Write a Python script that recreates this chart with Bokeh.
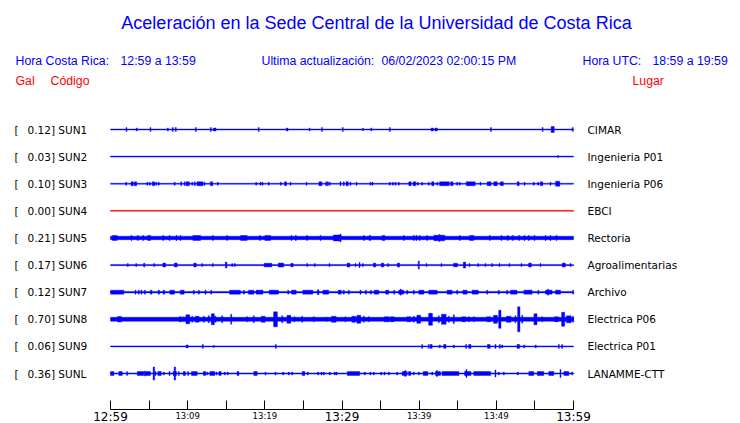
from bokeh.plotting import figure
from bokeh.models import Range1d, LinearAxis, FixedTicker, ColumnDataSource
from bokeh.core.properties import value
from bokeh.embed import file_html
from bokeh.resources import INLINE

# ---------------- data ----------------
CODES = ["SUN1", "SUN2", "SUN3", "SUN4", "SUN5", "SUN6", "SUN7", "SUN8", "SUN9", "SUNL"]
PLACES = ["CIMAR", "Ingenieria P01", "Ingenieria P06", "EBCI", "Rectoria",
          "Agroalimentarias", "Archivo", "Electrica P06", "Electrica P01", "LANAMME-CTT"]
PEAK_GAL = [0.12, 0.03, 0.10, 0.00, 0.21, 0.17, 0.12, 0.70, 0.06, 0.36]
NOISE = [0.5, 0.5, 0.5, 0.5, 1.75, 0.6, 0.75, 2.0, 0.5, 0.6]   # background trace level

TICK_MIN = [0, 5, 10, 15, 20, 25, 30, 35, 40, 45, 50, 55, 60]
BIG_TICKS = [0, 30, 60]
BIG_LABELS = ["12:59", "13:29", "13:59"]
SMALL_TICKS = [10, 20, 40, 50]
SMALL_LABELS = ["13:09", "13:19", "13:39", "13:49"]

# events: (minute after 12:59, duration in minutes, amplitude)
EV_SUN1 = [(2.07, .13, 2), (3.41, .13, 1.5), (5.18, .13, 2), (7.43, .13, 1.5), (8.07, .13, 2),
           (8.46, .13, 2), (11.05, .13, 2), (13.0, .13, 2), (13.5, .35, 1.5), (19.2, .13, 2),
           (22.9, .2, 1.5), (25.8, .13, 1.5), (27.4, .13, 2), (30.1, .13, 2), (32.7, .2, 1),
           (33.8, .13, 1.5), (36.2, .13, 2), (41.7, .3, 1.5), (42.2, .3, 1.5), (49.3, .13, 2),
           (56.0, .13, 2), (57.3, .4, 3), (59.9, .13, 2)]
EV_SUN2 = [(58.0, .13, 1)]
EV_SUN3 = [(2.03, .13, 1.5), (2.81, .3, 2), (3.24, .3, 2), (4.76, .13, 1.5), (5.09, .13, 1.5),
           (5.57, .3, 2), (5.92, .13, 1.5), (6.26, .13, 1.5), (8.33, .13, 1.5), (9.16, .13, 2),
           (9.63, .13, 2), (10.02, .4, 2), (10.59, .13, 1.5), (10.92, .13, 2), (11.6, .8, 2),
           (12.18, .13, 1.5), (13.09, .3, 2), (13.9, .13, 1.5), (18.88, .13, 1.5), (19.44, .13, 1.5),
           (19.7, .13, 1.5), (20.51, .13, 1.5), (22.07, .13, 1.5), (22.68, .25, 2), (23.33, .13, 1.5),
           (25.4, .13, 1.5), (27.21, .4, 2), (27.95, .13, 2), (28.16, .13, 2), (28.42, .13, 1.5),
           (29.8, .13, 2), (30.23, .13, 2), (30.67, .3, 2), (31.1, .13, 1.5), (31.88, .13, 1.5),
           (33.69, .13, 1.5), (33.95, .13, 1.5), (36.19, .13, 1.5), (36.58, .13, 1.5), (36.93, .13, 1.5),
           (37.36, .13, 1.5), (38.81, .3, 2), (39.39, .35, 2), (39.82, .13, 1.5), (40.39, .13, 1.5),
           (41.25, .13, 1.5), (41.77, .3, 2), (42.34, .13, 1.5), (43.27, 1.25, 2), (44.23, .3, 2),
           (44.93, .13, 1.5), (45.26, .13, 1.5), (46.68, 1.15, 2), (47.95, .13, 1.5), (49.07, .5, 2),
           (49.89, .45, 2), (50.54, .13, 1.5), (50.76, .3, 2), (52.83, .25, 2), (53.65, .13, 1.5),
           (54.85, .13, 1.5), (55.42, .13, 1.5), (55.85, .3, 2), (57.02, .13, 1.5), (57.95, .55, 2.5)]
EV_SUN4 = []
EV_SUN5 = [(0.55, .65, 2.5), (2.72, .13, 2.5), (3.54, .13, 2.5), (4.23, .13, 2.5), (5.01, .4, 2.5),
           (6.83, .13, 2.5), (7.65, .13, 2.5), (8.55, .13, 2.5), (9.07, .13, 2.5), (11.17, 1.0, 2.5),
           (13.26, .13, 2.5), (15.12, .13, 2.5), (17.28, .85, 2.5), (19.35, .13, 2.5), (20.37, .75, 2.5),
           (23.45, .13, 2.5), (24.02, .13, 2.5), (25.48, .13, 2.5), (27.21, .13, 2.5), (29.38, 1.0, 3),
           (29.8, .13, 4), (32.83, .13, 2.5), (33.61, .2, 2.5), (35.38, .35, 2.5), (38.01, .13, 2.5),
           (39.31, .13, 2.5), (39.65, .13, 2.5), (40.08, .13, 2.5), (41.04, .13, 2.5), (42.61, 1.4, 2.8),
           (42.63, .13, 3.5), (45.26, .13, 2.5), (46.8, .55, 2.5), (49.15, .13, 2.5), (50.67, .13, 2.5),
           (51.48, .13, 2.5), (52.13, .13, 2.5), (52.96, .13, 2.5), (53.65, .13, 2.5), (54.21, .13, 2.5),
           (54.94, .13, 2.5), (56.37, .13, 2.5), (57.02, .13, 2.5), (57.79, .13, 2.5)]
EV_SUN6 = [(2.24, .13, 1.5), (3.33, .13, 1.5), (4.37, .13, 2), (5.66, .13, 1.5), (6.96, .35, 2),
           (8.46, .35, 2), (10.95, .3, 2), (11.88, .13, 1.5), (13.26, .13, 1.5), (14.99, .2, 3),
           (15.77, .13, 1.5), (16.11, .13, 1.5), (20.41, 1.0, 1.8), (22.09, .7, 2), (23.52, .3, 1.8),
           (25.49, .13, 1.5), (26.47, .13, 1.5), (28.38, .13, 1.5), (30.84, .35, 2), (31.75, .13, 1.5),
           (32.27, .13, 2.5), (32.7, .13, 1.5), (34.22, .3, 2), (35.25, .3, 2), (35.98, .13, 1.5),
           (37.32, .3, 2), (39.95, .15, 4), (40.95, .13, 1.5), (42.89, .13, 1.5), (44.71, .5, 1.8),
           (45.87, .3, 3), (46.52, .13, 1.5), (47.65, .13, 1.5), (48.59, .13, 1.5), (49.46, .13, 1.5),
           (50.41, .13, 1.5), (51.7, .13, 1.5), (53.26, .13, 1.5), (54.36, .35, 2), (55.72, .13, 1.5),
           (58.74, .4, 2), (59.61, .13, 1.5)]
EV_SUN7 = [(0.87, 1.7, 2), (3.24, .13, 2), (3.67, .13, 2), (4.02, .13, 2), (4.45, .13, 2),
           (5.27, .2, 2), (6.26, .2, 2), (6.91, .2, 2), (7.99, .6, 2), (9.29, .5, 2), (10.8, .13, 2),
           (11.45, .13, 2), (12.31, .13, 2), (13.05, .13, 2), (16.13, 1.4, 2), (17.28, .13, 2),
           (18.23, .7, 2), (19.31, .9, 2), (21.16, 1.2, 2), (23.03, .13, 2), (23.76, .6, 2),
           (25.57, 1.3, 2), (26.91, .2, 2.5), (27.9, .75, 2), (29.71, .4, 2), (30.23, .13, 2),
           (30.88, .13, 2), (32.4, .13, 2), (33.09, .13, 2), (33.74, .13, 2), (34.47, .6, 2),
           (35.86, .4, 2), (36.76, .13, 2), (37.68, .65, 2), (37.6, .13, 3), (38.45, .13, 2),
           (39.31, .13, 2), (40.28, .65, 2), (41.79, 1.1, 2), (43.95, .65, 2), (44.92, .13, 2),
           (45.94, .55, 2), (47.26, .8, 2), (48.81, .13, 2), (50.32, .13, 2), (51.4, .13, 2),
           (52.26, .85, 2), (54.06, 1.0, 2), (54.57, .13, 2), (55.44, .13, 2), (56.8, .85, 2),
           (56.7, .13, 3), (57.99, .65, 2), (59.95, .13, 2)]
EV_SUN8 = [(1.17, .5, 2.8), (9.07, .3, 2.5), (9.5, .13, 2.5), (10.02, .5, 4.5), (10.59, .13, 3),
           (11.23, .5, 3), (12.09, .13, 3), (12.74, .13, 3.5), (13.26, .4, 5.5), (13.61, .13, 3),
           (14.47, .13, 3.5), (15.64, .13, 5), (17.71, .13, 2.5), (18.57, .13, 3.5), (19.79, .5, 3),
           (21.38, .5, 7.5), (22.25, .13, 3.5), (23.11, .5, 4), (23.84, .13, 2.5), (24.84, .13, 3),
           (26.34, .13, 2.5), (28.08, .13, 2), (28.94, .6, 3), (30.45, .13, 2.5), (31.53, .5, 3),
           (32.18, .5, 4), (32.83, .13, 3), (33.47, .13, 2.5), (35.77, .6, 2.5), (36.5, .5, 2.5),
           (38.66, .5, 2.5), (39.31, .13, 3), (39.95, .5, 4), (41.47, .5, 6), (42.55, .13, 3.5),
           (43.19, .6, 5), (43.84, .13, 3), (44.49, .13, 4.5), (45.79, .5, 2.5), (46.43, .13, 2.5),
           (47.08, .13, 2.5), (49.02, .5, 2.5), (49.89, .5, 4), (50.45, .3, 9), (51.61, .6, 3),
           (52.48, .13, 3.5), (52.91, .3, 12.5), (53.35, .13, 4), (55.07, .4, 5.5), (55.94, .13, 2.5),
           (57.79, .5, 2.5), (58.66, .4, 7), (59.39, .6, 3.5), (59.95, .13, 3)]
EV_SUN9 = [(9.93, .25, 1.5), (11.96, .13, 2), (13.39, .13, 1), (21.42, .13, 2), (40.39, .13, 2),
           (41.25, .13, 2), (41.56, .25, 2), (42.67, .13, 1.5), (43.32, .3, 2), (44.49, .13, 1.5),
           (46.09, .13, 2), (46.56, .3, 2), (49.02, .35, 2), (49.89, .13, 2), (50.45, .13, 2),
           (50.76, .13, 1.5), (52.85, .35, 2), (53.61, .13, 1.5), (55.11, .13, 1.5), (58.1, .13, 2),
           (58.53, .13, 2)]
EV_SUNL = [(0.22, .45, 2), (1.3, .45, 2), (2.16, .13, 2), (3.89, .85, 2), (4.45, .13, 2.5),
           (4.86, .65, 2), (5.62, .2, 6.5), (5.83, .13, 2), (6.35, .45, 2), (6.91, .13, 1.5),
           (7.65, .13, 2), (8.34, .45, 2), (8.34, .2, 6.5), (8.85, .13, 2), (9.57, .3, 2),
           (10.06, .13, 2), (10.86, .75, 2), (12.18, .3, 2), (12.53, .13, 1.5), (13.2, .65, 2),
           (13.74, .13, 1.5), (14.19, .3, 2), (14.81, .13, 1.5), (15.2, .13, 1.5), (16.52, .25, 2),
           (18.79, .45, 2), (20.09, .13, 1.5), (21.38, .13, 1.5), (22.38, .13, 1.5), (23.11, .13, 1.5),
           (23.54, .13, 1.5), (25.01, .35, 2), (25.57, .13, 1.5), (26.91, .13, 1.5), (27.34, .13, 1.5),
           (27.64, .13, 1.5), (28.42, .13, 1.5), (29.07, .13, 1.5), (29.29, .13, 1.5), (31.49, 1.6, 2),
           (32.95, .13, 1.5), (33.69, .13, 1.5), (34.12, .13, 1.5), (35.08, .13, 1.5), (35.51, .13, 1.5),
           (36.07, .13, 1.5), (37.15, .13, 1.5), (38.12, .65, 2), (38.2, .13, 3), (38.77, .3, 2),
           (39.3, .13, 1.5), (39.95, .13, 1.5), (40.82, .6, 2), (41.69, .13, 1.5), (42.44, .65, 2),
           (42.3, .13, 3), (44.06, 2.2, 2), (46.3, .85, 2), (46.13, .13, 4), (48.17, 2.2, 2),
           (49.89, .13, 3.5), (50.32, .13, 1.5), (50.97, .13, 1.5), (52.78, .13, 1.5), (54.53, .65, 2),
           (55.72, .85, 2), (57.12, .65, 2), (58.31, .13, 4), (59.07, .65, 2), (59.83, .13, 1.5)]
EVENTS = [EV_SUN1, EV_SUN2, EV_SUN3, EV_SUN4, EV_SUN5, EV_SUN6, EV_SUN7, EV_SUN8, EV_SUN9, EV_SUNL]

# ---------------- layout helpers ----------------
W, H = 740, 423
PXM = 463.0 / 60.0      # pixels per minute
ROWPX = 27.11           # pixels per row / amplitude scale


def xd(wx):
    return (wx - 110) / PXM


def yd(wy):
    return (373 - wy) / ROWPX


BLUE = "#0000FF"
RED = "#FF0000"

p = figure(width=W, height=H,
           x_range=Range1d(xd(0), xd(W)), y_range=Range1d(yd(H), yd(0)),
           output_backend="svg", toolbar_location=None,
           x_axis_type=None, y_axis_type=None, min_border=0)
p.outline_line_color = None
p.background_fill_color = "white"
p.border_fill_color = "white"
p.xgrid.visible = False
p.ygrid.visible = False

# ---------------- traces ----------------
left, right, bottom, top, color = [], [], [], [], []
for i, code in enumerate(CODES):
    yrow = 9 - i
    col = RED if PEAK_GAL[i] == 0 else BLUE
    n = NOISE[i] / ROWPX
    left.append(0); right.append(60); bottom.append(yrow - n); top.append(yrow + n); color.append(col)
    for (t, d, a) in EVENTS[i]:
        h = a / ROWPX
        left.append(t - d / 2); right.append(t + d / 2)
        bottom.append(yrow - h); top.append(yrow + h); color.append(col)

src = ColumnDataSource(dict(left=left, right=right, bottom=bottom, top=top, color=color))
p.quad(left="left", right="right", bottom="bottom", top="top", source=src,
       fill_color="color", line_color="color", line_width=0.4)

# ---------------- axis ----------------
overrides = {t: "" for t in TICK_MIN}
for t, lab in zip(BIG_TICKS, BIG_LABELS):
    overrides[t] = lab
ax = LinearAxis(fixed_location=yd(409), bounds=(0, 60),
                ticker=FixedTicker(ticks=TICK_MIN, minor_ticks=[]),
                major_tick_in=9, major_tick_out=0, minor_tick_in=0, minor_tick_out=0,
                major_label_overrides=overrides,
                major_label_text_font="DejaVu Sans", major_label_text_font_size="12px",
                major_label_text_color="black",
                major_label_standoff=0, axis_line_color="black", major_tick_line_color="black")
p.add_layout(ax, "below")
p.text(x=SMALL_TICKS, y=[yd(415.5)] * len(SMALL_TICKS), text=SMALL_LABELS,
       text_font=value("DejaVu Sans"), text_font_size=value("8.5px"),
       text_align="center", text_baseline="middle", text_color="black")

# ---------------- texts ----------------
SANS = value("Liberation Sans")


def label(wx, wy, txt, size, col, align="left", font=SANS):
    p.text(x=[xd(wx)], y=[yd(wy)], text=[txt], text_font=font,
           text_font_size=value(size), text_color=col,
           text_align=align, text_baseline="middle")


HDR = "12.3px"
label(376, 22, "Aceleración en la Sede Central de la Universidad de Costa Rica", "18px", BLUE, "center")
label(15, 60, "Hora Costa Rica:", HDR, BLUE)
label(120, 60, "12:59 a 13:59", HDR, BLUE)
label(261, 60, "Ultima actualización:", HDR, BLUE)
label(381, 60, "06/02/2023 02:00:15 PM", HDR, BLUE)
label(582, 60, "Hora UTC:", HDR, BLUE)
label(652, 60, "18:59 a 19:59", HDR, BLUE)
label(15, 80, "Gal", HDR, RED)
label(50, 80, "Código", HDR, RED)
label(632, 80, "Lugar", HDR, RED)

DV = value("DejaVu Sans")
rows_y = [9 - i for i in range(len(CODES))]
p.text(x=[xd(14)] * len(CODES), y=rows_y, text=["["] * len(CODES), text_font=DV,
       text_font_size=value("10.5px"), text_color="black", text_baseline="middle")
p.text(x=[xd(27)] * len(CODES), y=rows_y,
       text=[f"{v:.2f}] {c}" for v, c in zip(PEAK_GAL, CODES)], text_font=DV,
       text_font_size=value("10.5px"), text_color="black", text_baseline="middle")
p.text(x=[xd(587)] * len(CODES), y=rows_y, text=PLACES, text_font=DV,
       text_font_size=value("10.5px"), text_color="black", text_baseline="middle")

open("out.html", "w").write(file_html(p, INLINE))
